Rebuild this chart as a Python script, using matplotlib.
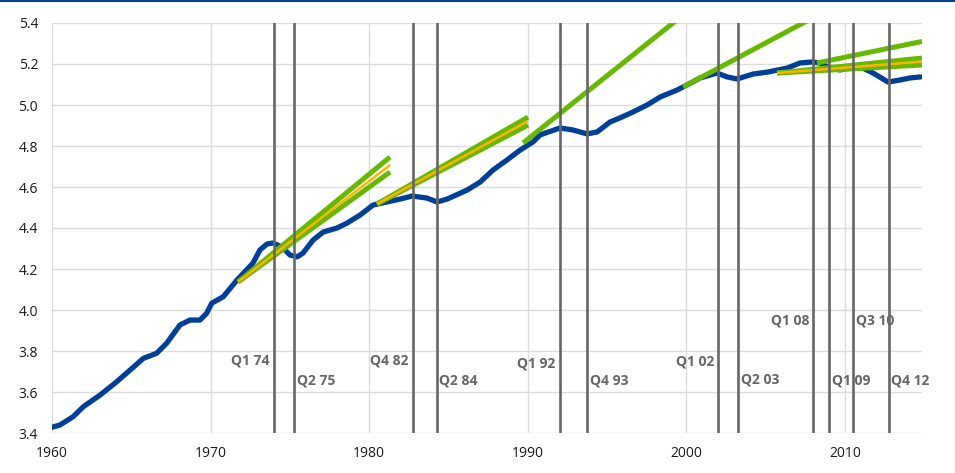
import matplotlib
matplotlib.use("Agg")
import matplotlib.pyplot as plt
from matplotlib.lines import Line2D

plt.rcParams['font.family'] = ['Open Sans', 'DejaVu Sans']

# Main series (year, value)
years = [1960.0, 1960.50, 1961.34, 1961.97, 1963.03, 1964.08, 1964.92, 1965.76, 1966.60,
         1967.23, 1968.07, 1968.70, 1969.33, 1969.75, 1970.07, 1970.80, 1971.66, 1972.2,
         1972.67, 1973.11, 1973.56, 1973.93, 1974.50, 1975.01, 1975.45, 1975.83, 1976.46,
         1977.09, 1977.97, 1978.60, 1979.42, 1980.24, 1981.12, 1981.94, 1982.70, 1983.64,
         1984.27, 1984.91, 1986.17, 1986.99, 1987.81, 1988.69, 1989.51, 1990.33, 1990.77,
         1992.03, 1992.85, 1993.73, 1994.36, 1995.18, 1995.81, 1996.63, 1997.52, 1998.34,
         1999.41, 2000.04, 2000.86, 2001.93, 2002.56, 2003.19, 2004.20, 2005.15, 2006.34,
         2007.16, 2007.92, 2008.42, 2009.05, 2009.68, 2010.50, 2011.13, 2011.76, 2012.71,
         2013.47, 2014.10, 2014.75]
values = [3.428, 3.439, 3.480, 3.528, 3.585, 3.650, 3.707, 3.764, 3.789,
          3.838, 3.927, 3.951, 3.951, 3.984, 4.033, 4.065, 4.146, 4.19,
          4.229, 4.293, 4.322, 4.327, 4.307, 4.268, 4.259, 4.278, 4.341,
          4.380, 4.400, 4.424, 4.463, 4.512, 4.527, 4.541, 4.556, 4.546,
          4.527, 4.541, 4.585, 4.624, 4.683, 4.732, 4.780, 4.820, 4.854,
          4.888, 4.878, 4.859, 4.868, 4.917, 4.937, 4.966, 5.000, 5.039,
          5.073, 5.098, 5.132, 5.156, 5.137, 5.127, 5.151, 5.161, 5.180,
          5.205, 5.210, 5.205, 5.180, 5.171, 5.185, 5.180, 5.156, 5.112,
          5.122, 5.132, 5.137]

# Trend lines: start year, start value, end year, end value, kind
trend_x0 = [1971.73, 1971.73, 1971.73, 1980.49, 1980.49, 1980.49, 1989.70, 1999.79, 2005.71, 2005.71, 2005.71, 2008.23]
trend_y0 = [4.137, 4.137, 4.137, 4.517, 4.517, 4.517, 4.815, 5.088, 5.156, 5.156, 5.156, 5.205]
trend_x1 = [1981.31, 1981.31, 1981.31, 1990.01, 1990.01, 1990.01, 1999.8, 2008.0, 2014.85, 2014.85, 2014.85, 2014.85]
trend_y1 = [4.746, 4.673, 4.707, 4.941, 4.902, 4.922, 5.44, 5.427, 5.229, 5.195, 5.212, 5.310]
trend_kind = ['g', 'g', 'o', 'g', 'g', 'o', 'g', 'g', 'g', 'g', 'o', 'g']

# Recession-type markers
event_x = [1974.0, 1975.25, 1982.75, 1984.25, 1992.0, 1993.75, 2002.0, 2003.25, 2008.0, 2009.0, 2010.5, 2012.75]
event_labels = ['Q1 74', 'Q2 75', 'Q4 82', 'Q2 84', 'Q1 92', 'Q4 93', 'Q1 02', 'Q2 03', 'Q1 08', 'Q1 09', 'Q3 10', 'Q4 12']
event_side = ['L', 'R', 'L', 'R', 'L', 'R', 'L', 'R', 'L', 'R', 'R', 'R']
event_label_y = [3.756, 3.658, 3.756, 3.658, 3.741, 3.658, 3.751, 3.663, 3.951, 3.658, 3.951, 3.658]

xticks = [1960, 1970, 1980, 1990, 2000, 2010]
yticks = [3.4, 3.6, 3.8, 4.0, 4.2, 4.4, 4.6, 4.8, 5.0, 5.2, 5.4]

BLUE = '#003F98'
GREEN = '#66B800'
ORANGE = '#FFB300'
GRAY = '#666666'

fig = plt.figure(figsize=(9.55, 4.73), dpi=100)
ax = fig.add_axes([52/955, 40/473, (922-52)/955, (433-23)/473])

ax.set_xlim(1960, 2014.85)
ax.set_ylim(3.4, 5.4)
ax.set_xticks(xticks)
ax.set_yticks(yticks)
ax.set_yticklabels([f"{v:.1f}" for v in yticks])
ax.grid(True, color='#dcdcdc', linewidth=1.0)
ax.set_axisbelow(True)
for s in ax.spines.values():
    s.set_visible(False)
ax.tick_params(length=0, labelsize=10, colors='#1a1a1a')
ax.tick_params(axis='y', pad=10)
ax.tick_params(axis='x', pad=9)

ax.plot(years, values, color=BLUE, lw=3.8, solid_capstyle='round', solid_joinstyle='round', zorder=3)

for x0, y0, x1, y1, k in zip(trend_x0, trend_y0, trend_x1, trend_y1, trend_kind):
    if k == 'g':
        ax.plot([x0, x1], [y0, y1], color=GREEN, lw=3.6, solid_capstyle='butt', zorder=4)
for x0, y0, x1, y1, k in zip(trend_x0, trend_y0, trend_x1, trend_y1, trend_kind):
    if k == 'o':
        ax.plot([x0, x1], [y0, y1], color=ORANGE, lw=1.8, solid_capstyle='butt', zorder=5)

for x, lab, side, ly in zip(event_x, event_labels, event_side, event_label_y):
    ax.axvline(x, color=GRAY, lw=1.9, zorder=6)
    if side == 'L':
        ax.annotate(lab, (x, ly), xytext=(-3, 0), textcoords='offset points',
                    ha='right', va='center', fontsize=10, fontweight='bold', color=GRAY, zorder=7)
    else:
        ax.annotate(lab, (x, ly), xytext=(2, 0), textcoords='offset points',
                    ha='left', va='center', fontsize=10, fontweight='bold', color=GRAY, zorder=7)

fig.add_artist(Line2D([0, 1], [0.998, 0.998], transform=fig.transFigure, color=BLUE, lw=1.5))

fig.savefig('out.png', dpi=100)
